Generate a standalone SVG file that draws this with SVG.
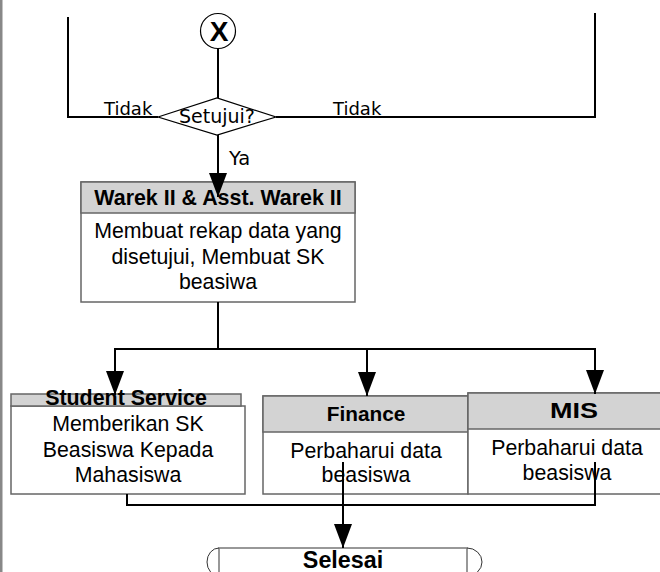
<svg xmlns="http://www.w3.org/2000/svg" width="660" height="572" viewBox="0 0 660 572">
<style>
.box{fill:#fff;stroke:#666;stroke-width:1.5}
.hdr{fill:#d3d3d3;stroke:#666;stroke-width:1.5}
.ht{font-family:"Liberation Sans",Arial,sans-serif;font-weight:bold;font-size:21.4px;text-anchor:middle;fill:#000}
.bt{font-family:"Liberation Sans",Arial,sans-serif;font-size:21.3px;text-anchor:middle;fill:#000}
.lbl{font-family:"DejaVu Sans",Verdana,sans-serif;font-size:18px;fill:#000}
.con{fill:none;stroke:#000;stroke-width:2}
</style>
<defs>
<marker id="arr" viewBox="0 0 24 18" refX="24" refY="9" markerWidth="24" markerHeight="18" orient="auto" markerUnits="userSpaceOnUse">
<path d="M0,0 L24,9 L0,18 z" fill="#000"/>
</marker>
</defs>
<rect x="0" y="0" width="2.5" height="572" fill="#888"/>

<g id="connector-x">
<circle cx="218" cy="31" r="17.5" fill="#fff" stroke="#000" stroke-width="1.2"/>
<text x="219" y="41" class="ht" style="font-size:28px">X</text>
</g>

<g id="decision">
<polygon points="158,117 217,98 276,117 217,135" fill="#fff" stroke="#000" stroke-width="1.2"/>
<text x="217" y="123" class="lbl" style="font-size:19px" text-anchor="middle">Setujui?</text>
</g>

<g id="labels">
<text x="104" y="115" class="lbl">Tidak</text>
<text x="333" y="115" class="lbl">Tidak</text>
<text x="229" y="165" class="lbl" style="font-size:19.5px">Ya</text>
</g>

<g id="warek">
<rect class="box" x="81" y="182" width="274" height="120"/>
<rect class="hdr" x="81" y="182" width="274" height="31"/>
<text x="218" y="205" class="ht">Warek II &amp; Asst. Warek II</text>
<text x="218" y="238" class="bt">Membuat rekap data yang</text>
<text x="218" y="264" class="bt">disetujui, Membuat SK</text>
<text x="218" y="289" class="bt">beasiwa</text>
</g>

<g id="student-service">
<rect class="box" x="11" y="406" width="234" height="88"/>
<rect class="hdr" x="11" y="394" width="230" height="12"/>
<text x="126" y="405" class="ht">Student Service</text>
<text x="128" y="431" class="bt">Memberikan SK</text>
<text x="128" y="457" class="bt">Beasiswa Kepada</text>
<text x="128" y="482" class="bt">Mahasiswa</text>
</g>

<g id="finance">
<rect class="box" x="263" y="396" width="205" height="98"/>
<rect class="hdr" x="263" y="396" width="205" height="36"/>
<text x="366" y="421" class="ht" style="font-size:20.8px">Finance</text>
<text x="366" y="458" class="bt">Perbaharui data</text>
<text x="366" y="482" class="bt">beasiswa</text>
</g>

<g id="mis">
<rect class="box" x="468" y="393" width="196" height="101"/>
<rect class="hdr" x="468" y="393" width="196" height="36"/>
<text x="574" y="418" class="ht" style="font-size:22px" textLength="48" lengthAdjust="spacingAndGlyphs">MIS</text>
<text x="567" y="455" class="bt">Perbaharui data</text>
<text x="567" y="480" class="bt">beasiswa</text>
</g>

<g id="selesai">
<path d="M219,576 L219,548 L467,548 L467,576" fill="#fff" stroke="#777" stroke-width="1.5"/>
<path d="M219,548 A12,14 0 0 0 219,576" fill="none" stroke="#333" stroke-width="1"/>
<path d="M467,548 A15,14 0 0 1 467,576" fill="none" stroke="#333" stroke-width="1"/>
<text x="343" y="568" class="ht" style="font-size:23.3px">Selesai</text>
</g>

<g id="connectors">
<line class="con" x1="218" y1="49" x2="218" y2="98"/>
<polyline class="con" points="158,117 68,117 68,17"/>
<polyline class="con" points="276,117 595,117 595,13"/>
<line class="con" x1="218" y1="135" x2="218" y2="197" marker-end="url(#arr)"/>
<line class="con" x1="218" y1="302" x2="218" y2="349"/>
<line class="con" x1="114" y1="349" x2="596" y2="349"/>
<line class="con" x1="115" y1="349" x2="115" y2="395" marker-end="url(#arr)"/>
<line class="con" x1="367" y1="349" x2="367" y2="396" marker-end="url(#arr)"/>
<line class="con" x1="595" y1="349" x2="595" y2="394" marker-end="url(#arr)"/>
<polyline class="con" points="127,494 127,505 595,505 595,462"/>
<line class="con" x1="343" y1="462" x2="343" y2="548" marker-end="url(#arr)"/>
</g>
</svg>
